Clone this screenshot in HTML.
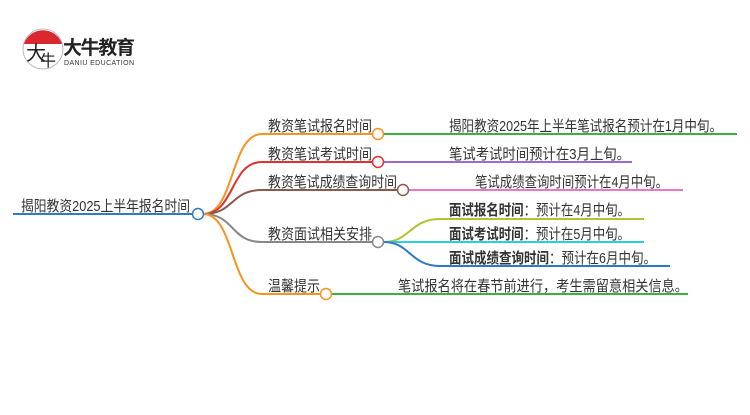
<!DOCTYPE html>
<html><head><meta charset="utf-8"><style>
body{margin:0;background:#fff;width:750px;height:410px;overflow:hidden}
svg text{font-family:"Liberation Sans","Noto Sans CJK SC",sans-serif;font-size:15px;fill:#333}
</style></head><body>
<svg width="750" height="410" viewBox="0 0 750 410" xmlns="http://www.w3.org/2000/svg">
<circle cx="43" cy="49" r="20" fill="#fff" stroke="#bbb" stroke-width="1"/>
<path d="M24,44 A20,20 0 0 1 62,44 Z" fill="#d9282f"/>
<text x="26" y="60" style="font-size:20px;fill:#222">大</text>
<text x="40" y="66" style="font-size:16px;fill:#222">牛</text>
<text x="63" y="54" style="font-size:19px;font-weight:bold;fill:#222" textLength="72">大牛教育</text>
<text x="64" y="65" style="font-size:7px;fill:#333" textLength="70">DANIU EDUCATION</text>

<g fill="none" stroke-width="2">
<line x1="13" y1="214" x2="193" y2="214" stroke="#2f7bc4"/>
<path d="M203,214 C235,214 230,134 262,134 L373,134" stroke="#f7931e"/>
<path d="M203,214 C235,214 230,162 262,162 L373,162" stroke="#e0302f"/>
<path d="M203,214 C235,214 230,190 262,190 L398,190" stroke="#8b5a4a"/>
<path d="M203,214 C235,214 230,242 262,242 L373,242" stroke="#888"/>
<path d="M203,214 C235,214 230,294 262,294 L321,294" stroke="#f7931e"/>
<line x1="384" y1="134" x2="737" y2="134" stroke="#3cb043"/>
<line x1="384" y1="162" x2="632" y2="162" stroke="#9b6bd0"/>
<line x1="409" y1="190" x2="683" y2="190" stroke="#e878c0"/>
<path d="M384,242 C410,242 410,219 440,219 L644,219" stroke="#b8c030"/>
<line x1="384" y1="242" x2="644" y2="242" stroke="#2ad0e0"/>
<path d="M384,242 C410,242 410,266 440,266 L670,266" stroke="#2a7ac8"/>
<line x1="332" y1="294" x2="688" y2="294" stroke="#3cb043"/>
</g>
<g fill="#fff" stroke-width="1.5">
<circle cx="198" cy="214" r="5.5" stroke="#2f7bc4"/>
<circle cx="378" cy="134" r="5.5" stroke="#f7931e"/>
<circle cx="378" cy="162" r="5.5" stroke="#e0302f"/>
<circle cx="403" cy="190" r="5.5" stroke="#8b5a4a"/>
<circle cx="378" cy="242" r="5.5" stroke="#888"/>
<circle cx="326" cy="294" r="5.5" stroke="#f7931e"/>
</g>
<g>
<text x="21" y="211" textLength="169" lengthAdjust="spacingAndGlyphs">揭阳教资2025上半年报名时间</text>
<text x="268" y="131" textLength="104" lengthAdjust="spacingAndGlyphs">教资笔试报名时间</text>
<text x="268" y="159" textLength="104" lengthAdjust="spacingAndGlyphs">教资笔试考试时间</text>
<text x="268" y="187" textLength="129" lengthAdjust="spacingAndGlyphs">教资笔试成绩查询时间</text>
<text x="268" y="239" textLength="104" lengthAdjust="spacingAndGlyphs">教资面试相关安排</text>
<text x="268" y="291" textLength="52" lengthAdjust="spacingAndGlyphs">温馨提示</text>
<text x="449" y="131" textLength="273" lengthAdjust="spacingAndGlyphs">揭阳教资2025年上半年笔试报名预计在1月中旬。</text>
<text x="449" y="159" textLength="181" lengthAdjust="spacingAndGlyphs">笔试考试时间预计在3月上旬。</text>
<text x="475" y="187" textLength="193" lengthAdjust="spacingAndGlyphs">笔试成绩查询时间预计在4月中旬。</text>
<text x="449" y="215" textLength="181" lengthAdjust="spacingAndGlyphs"><tspan font-weight="bold">面试报名时间</tspan>：预计在4月中旬。</text>
<text x="449" y="239" textLength="181" lengthAdjust="spacingAndGlyphs"><tspan font-weight="bold">面试考试时间</tspan>：预计在5月中旬。</text>
<text x="449" y="263" textLength="207" lengthAdjust="spacingAndGlyphs"><tspan font-weight="bold">面试成绩查询时间</tspan>：预计在6月中旬。</text>
<text x="398" y="291" textLength="290" lengthAdjust="spacingAndGlyphs">笔试报名将在春节前进行，考生需留意相关信息。</text>
</g>
</svg>
</body></html>
